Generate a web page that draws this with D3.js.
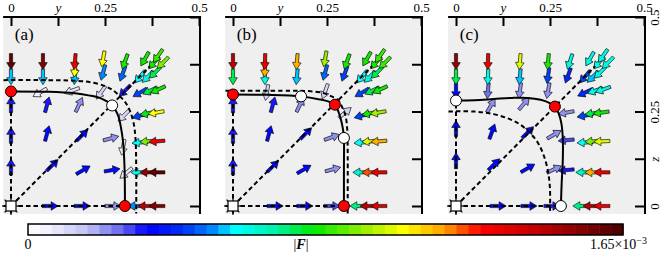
<!DOCTYPE html>
<meta charset="utf-8">
<style>
body {margin: 0; background: white;}
text {font-family: "Liberation Serif", "DejaVu Serif", serif; fill: #000;}
.panel {fill: #efefef;}
.dash {fill: none; stroke: #000; stroke-width: 2px; stroke-dasharray: 4.5,3;}
.solid {fill: none; stroke: #000; stroke-width: 2px;}
.arrow {stroke: #000; stroke-width: 0.6px;}
.spine {stroke: #000; stroke-width: 2px;}
.tick line {stroke: #000; stroke-width: 2px;}
</style>
<body>
<script src="https://d3js.org/d3.v7.min.js"></script>
<script>
var width = 664, height = 258
var fMax = 1.65   // colour range, units of 1e-3
var nBins = 50

var tickVals = [0, 0.125, 0.25, 0.375, 0.5]
var topTickLabels = ["0", "y", "0.25", "", "0.5"]
var rightTickLabels = ["0", "z", "0.25", "", "0.5"]
var panelLabels = ["(a)", "(b)", "(c)"]
var diagEnd = 0.37

// arrows: [y, z, angle (deg), |F| (1e-3)]
var arrowsA = [
  [0,0.103,90,0.32],[0,0.187,90,0.32],[0,0.268,90,0.3],
  [0.104,0,0,0.35],[0.189,0,0,0.35],[0.271,0,0,0.22],
  [0.110,0.108,45,0.36],[0.192,0.095,30,0.34],[0.269,0.095,10,0.33],
  [0.096,0.192,75,0.34],[0.189,0.187,45,0.35],[0.266,0.179,15,0.2],
  [0.096,0.268,75,0.32],[0.181,0.268,65,0.22],
  [0.077,0.300,210,0.06],[0.162,0.305,200,0.08],[0.239,0.300,235,0.12],
  [0.300,0.239,225,0.1],[0.298,0.155,260,0.04],[0.306,0.087,220,0.08],
  [0.303,0.305,225,0.3],
  [0,0.342,270,0.55],[0,0.382,270,1.6],
  [0.085,0.342,270,0.55],[0.085,0.382,270,1.55],
  [0.170,0.342,265,0.55],[0.170,0.362,265,1.05],[0.170,0.382,265,1.3],
  [0.245,0.353,255,0.5],[0.245,0.389,260,1.05],
  [0.297,0.350,250,0.48],[0.303,0.382,250,0.8],
  [0.343,0.342,230,0.57],[0.364,0.342,225,0.6],[0.383,0.353,225,0.75],
  [0.356,0.389,240,0.8],[0.380,0.379,230,0.8],[0.404,0.379,225,0.9],[0.391,0.397,235,0.85],
  [0.343,0.300,210,0.45],[0.370,0.305,205,0.75],[0.391,0.308,205,0.8],
  [0.343,0.239,195,0.45],[0.364,0.245,192,0.78],[0.386,0.247,190,1.05],
  [0.343,0.168,185,0.57],[0.364,0.171,185,0.9],[0.388,0.171,185,1.3],
  [0.340,0.089,180,0.57],[0.364,0.089,180,1.5],[0.388,0.089,180,1.6],
  [0.332,0,180,0.5],[0.359,0,180,1.45],[0.388,0,180,1.55]
]
var arrowsB = [
  [0,0.103,90,0.32],[0,0.187,90,0.32],[0,0.268,90,0.3],
  [0.112,0,0,0.35],[0.191,0,0,0.35],[0.263,0,0,0.28],
  [0.106,0.268,75,0.3],[0.178,0.268,65,0.22],
  [0.096,0.192,75,0.34],[0.194,0.192,45,0.35],
  [0.106,0.105,45,0.36],[0.189,0.097,30,0.34],[0.266,0.097,15,0.2],
  [0.263,0.182,20,0.2],[0.298,0.247,40,0.1],
  [0.090,0.300,260,0.1],[0.245,0.303,250,0.12],
  [0,0.342,270,0.75],[0,0.382,270,1.45],
  [0.085,0.342,270,0.6],[0.085,0.362,268,1.15],[0.085,0.382,268,1.3],
  [0.170,0.342,265,0.55],[0.170,0.382,265,1.15],
  [0.245,0.353,255,0.48],[0.245,0.389,260,0.95],
  [0.297,0.350,250,0.45],[0.303,0.382,250,0.8],
  [0.343,0.342,230,0.57],[0.364,0.342,225,0.62],[0.383,0.353,225,0.75],
  [0.356,0.389,240,0.8],[0.380,0.379,230,0.8],[0.404,0.379,225,0.85],[0.391,0.397,235,0.85],
  [0.343,0.300,210,0.45],[0.370,0.305,205,0.75],[0.391,0.308,205,0.8],
  [0.343,0.239,195,0.45],[0.364,0.245,192,0.8],[0.386,0.247,190,0.95],
  [0.343,0.168,185,0.57],[0.364,0.171,185,1.0],[0.388,0.171,185,1.15],
  [0.340,0.089,180,0.65],[0.364,0.089,180,1.2],[0.388,0.089,180,1.3],
  [0.332,0,180,0.72],[0.359,0,180,1.45],[0.388,0,180,1.35]
]
var arrowsC = [
  [0,0.12,90,0.34],[0,0.205,90,0.34],
  [0.112,0,0,0.35],[0.194,0,0,0.35],[0.255,0,0,0.3],
  [0.096,0.197,70,0.36],[0.191,0.100,30,0.36],[0.101,0.110,45,0.36],[0.191,0.195,45,0.36],
  [0.093,0.266,60,0.22],[0.181,0.271,50,0.22],
  [0.261,0.189,30,0.2],[0.261,0.097,25,0.22],
  [0.293,0.247,190,0.2],[0.293,0.174,185,0.28],[0.293,0.095,185,0.3],
  [0,0.305,270,0.35],[0,0.342,270,0.75],[0,0.382,270,1.5],
  [0.085,0.305,265,0.25],[0.085,0.342,268,0.6],[0.085,0.382,268,1.3],
  [0.170,0.305,262,0.2],[0.170,0.342,265,0.55],[0.170,0.382,265,1.0],
  [0.245,0.305,260,0.2],[0.245,0.345,262,0.45],[0.245,0.382,265,0.8],
  [0.298,0.345,250,0.42],[0.303,0.382,252,0.6],
  [0.343,0.342,230,0.45],[0.364,0.342,225,0.55],[0.383,0.353,225,0.6],
  [0.356,0.389,240,0.6],[0.380,0.379,230,0.6],[0.404,0.379,225,0.62],[0.391,0.397,235,0.62],
  [0.343,0.300,205,0.42],[0.370,0.305,200,0.6],[0.391,0.308,200,0.62],
  [0.343,0.239,190,0.45],[0.364,0.245,188,0.75],[0.386,0.247,188,0.8],
  [0.343,0.168,183,0.57],[0.364,0.171,183,0.9],[0.388,0.171,183,1.0],
  [0.340,0.089,180,0.65],[0.364,0.089,180,1.15],[0.388,0.089,180,1.3],
  [0.332,0,180,0.72],[0.359,0,180,1.45],[0.388,0,180,1.3]
]

// solid curves [y, z]
var solidA = [[0,0.303],[0.1,0.302],[0.17,0.298],[0.21,0.292],[0.236,0.286],[0.255,0.277],
  [0.268,0.268],[0.277,0.255],[0.286,0.236],[0.292,0.21],[0.298,0.17],[0.302,0.1],[0.303,0]]
var solidB = [[0,0.295],[0.09,0.294],[0.181,0.29],[0.231,0.282],[0.255,0.276],[0.271,0.268],
  [0.281,0.248],[0.288,0.225],[0.293,0.2],[0.295,0.18],[0.295,0.1],[0.295,0]]
var solidC = [[0,0.279],[0.05,0.28],[0.1,0.283],[0.15,0.286],[0.19,0.286],[0.225,0.281],
  [0.248,0.273],[0.263,0.263],[0.273,0.245],[0.28,0.22],[0.284,0.18],[0.284,0.12],[0.281,0.06],[0.279,0]]
// dashed boundaries [y, z]
var boundA = [[-0.02,0.333],[0.1,0.333],[0.18,0.331],[0.22,0.326],[0.25,0.317],[0.27,0.307],[0.29,0.29],
  [0.307,0.27],[0.317,0.25],[0.326,0.22],[0.331,0.18],[0.333,0.1],[0.333,-0.02]]
var boundB = [[-0.02,0.305],[0.15,0.305],[0.2,0.304],[0.24,0.299],[0.262,0.29],[0.28,0.28],
  [0.29,0.262],[0.299,0.24],[0.304,0.2],[0.305,0.15],[0.305,-0.02]]
var boundC = [[-0.02,0.25],[0.05,0.2497],[0.1,0.243],[0.14,0.231],[0.17,0.216],[0.195,0.195],
  [0.216,0.17],[0.231,0.14],[0.243,0.1],[0.2497,0.05],[0.25,-0.02]]

var redA = [[0,0.303],[0.303,0]], whiteA = [[0.269,0.266]]
var redB = [[0,0.295],[0.271,0.268],[0.295,0]], whiteB = [[0.181,0.29],[0.295,0.18]]
var redC = [[0.263,0.263]], whiteC = [[0,0.279],[0.279,0]]

var cmapStops = [0,0.03,0.1,0.16,0.2,0.26,0.31,0.35,0.42,0.48,0.56,0.63,0.7,0.76,0.86,1]
var cmapColors = ["#ffffff","#f4f4ff","#c0c0f4","#6060f0","#0000ff","#0030f5","#0088ff","#00ffff",
  "#00f0a0","#00ea00","#90ee00","#ffff00","#ffa000","#ff0000","#c00000","#480000"]

var cmap = d3.scaleLinear().domain(cmapStops).range(cmapColors).interpolate(d3.interpolateRgb)
function colorOf(m) {
  var b = Math.max(0, Math.min(nBins - 1, Math.floor(m / fMax * nBins)))
  return cmap((b + 0.5) / nBins)
}

var panels = [
  {arrows: arrowsA, solid: solidA, bound: boundA, red: redA, white: whiteA, ox: 11},
  {arrows: arrowsB, solid: solidB, bound: boundB, red: redB, white: whiteB, ox: 233},
  {arrows: arrowsC, solid: solidC, bound: boundC, red: redC, white: whiteC, ox: 456}
]

var svg = d3.select("body").append("svg")
  .attr("width", width).attr("height", height)

var x = d3.scaleLinear().domain([0, 0.5]).range([0, 188])
var z = d3.scaleLinear().domain([0, 0.5]).range([206, 17])
var line = d3.line().x(d => x(d[0])).y(d => z(d[1])).curve(d3.curveCatmullRom)

var L = 16, sw = 1.6, hw = 4.3, hl = 7
var arrowD = "M" + (-L/2) + "," + (-sw) + "L" + (L/2 - hl) + "," + (-sw) + "L" + (L/2 - hl) + "," + (-hw) +
  "L" + (L/2) + ",0L" + (L/2 - hl) + "," + hw + "L" + (L/2 - hl) + "," + sw + "L" + (-L/2) + "," + sw + "Z"

panels.forEach(function(p, i) {
  var g = svg.append("g").attr("transform", "translate(" + p.ox + ",0)")
  g.append("rect").attr("class", "panel")
    .attr("x", x(-0.021)).attr("y", z(0.5))
    .attr("width", x(0.503) - x(-0.021)).attr("height", z(-0.021) - z(0.5))

  g.selectAll(".arrow").data(p.arrows).enter().append("path")
    .attr("class", "arrow").attr("d", arrowD)
    .attr("fill", d => colorOf(d[3]))
    .attr("transform", d => "translate(" + x(d[0]) + "," + z(d[1]) + ") rotate(" + (-d[2]) + ")")

  var first = p.solid[0], last = p.solid[p.solid.length - 1]
  var dashLines = [p.bound, [[0, 0], [diagEnd, diagEnd]],
    [[0, -0.02], first], [[-0.02, 0], last]]
  g.selectAll(".dash").data(dashLines).enter().append("path")
    .attr("class", "dash").attr("d", line)
  g.append("path").datum(p.solid).attr("class", "solid").attr("d", line)

  // origin marker
  var o = g.append("g").attr("transform", "translate(" + x(0) + "," + z(0) + ")")
  d3.range(8).forEach(function(k) {
    var a = k * Math.PI / 4
    o.append("line").attr("x1", 0).attr("y1", 0)
      .attr("x2", 9 * Math.cos(a)).attr("y2", 9 * Math.sin(a))
      .attr("stroke", "#000").attr("stroke-width", 1.2)
  })
  o.append("rect").attr("x", -5).attr("y", -5).attr("width", 10).attr("height", 10)
    .attr("fill", "#fff").attr("stroke", "#000").attr("stroke-width", 1.2)

  g.selectAll(".red").data(p.red).enter().append("circle")
    .attr("cx", d => x(d[0])).attr("cy", d => z(d[1])).attr("r", 5.5)
    .attr("fill", "#ff0000").attr("stroke", "#000").attr("stroke-width", 1)
  g.selectAll(".white").data(p.white).enter().append("circle")
    .attr("cx", d => x(d[0])).attr("cy", d => z(d[1])).attr("r", 5.5)
    .attr("fill", "#fff").attr("stroke", "#000").attr("stroke-width", 1)

  // top axis
  var top = g.append("g").attr("transform", "translate(0," + z(0.5) + ")")
    .call(d3.axisTop(x).tickValues(tickVals).tickSize(-9).tickSizeOuter(0).tickPadding(5)
      .tickFormat((d, k) => topTickLabels[k]))
  top.select(".domain").remove()
  top.selectAll("text").attr("font-size", 13).attr("font-family", null)
    .style("font-style", d => d === 0.125 ? "italic" : null)
  g.append("line").attr("class", "spine")
    .attr("x1", x(-0.021)).attr("x2", x(0.503) + 1).attr("y1", z(0.5)).attr("y2", z(0.5))

  // right axis
  var right = g.append("g").attr("transform", "translate(" + (x(0.5) + 1) + ",0)")
    .call(d3.axisRight(z).tickValues(tickVals).tickSize(-10).tickSizeOuter(0)
      .tickFormat((d, k) => i === 2 ? rightTickLabels[k] : ""))
  right.select(".domain").remove()
  right.selectAll("text").attr("font-size", 13).attr("font-family", null)
    .attr("x", null).attr("dy", null)
    .attr("text-anchor", "middle")
    .attr("transform", "translate(14,0) rotate(-90)")
    .style("font-style", d => d === 0.125 ? "italic" : null)
  g.append("line").attr("class", "spine")
    .attr("x1", x(0.5) + 1).attr("x2", x(0.5) + 1).attr("y1", z(0.5) - 1).attr("y2", z(-0.021))

  g.append("text").attr("x", x(0.01)).attr("y", z(0.44))
    .attr("font-size", 17).text(panelLabels[i])
})

// colorbar
var cb = d3.scaleLinear().domain([0, fMax]).range([28, 623])
var bins = d3.range(nBins)
svg.selectAll(".cbin").data(bins).enter().append("rect")
  .attr("x", b => cb(b * fMax / nBins)).attr("y", 224)
  .attr("width", cb(fMax / nBins) - cb(0) + 0.5).attr("height", 11)
  .attr("fill", b => colorOf((b + 0.5) * fMax / nBins))
svg.append("rect").attr("x", cb(0)).attr("y", 224)
  .attr("width", cb(fMax) - cb(0)).attr("height", 11)
  .attr("fill", "none").attr("stroke", "#000").attr("stroke-width", 1.5)

svg.append("text").attr("x", cb(0)).attr("y", 249).attr("text-anchor", "middle")
  .attr("font-size", 14).text("0")
var fl = svg.append("text").attr("x", 301).attr("y", 249).attr("text-anchor", "middle")
  .attr("font-size", 14)
fl.append("tspan").text("|")
fl.append("tspan").attr("font-weight", "bold").attr("font-style", "italic").text("F")
fl.append("tspan").text("|")
var ml = svg.append("text").attr("x", 647).attr("y", 249).attr("text-anchor", "end")
  .attr("font-size", 14)
ml.append("tspan").text("1.65×10")
ml.append("tspan").attr("dy", -5).attr("font-size", 10).text("−3")
</script>
